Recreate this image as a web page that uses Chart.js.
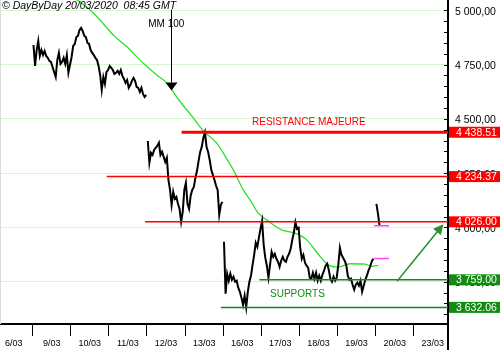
<!DOCTYPE html>
<html><head><meta charset="utf-8">
<script src="https://cdn.jsdelivr.net/npm/chart.js@4.4.1/dist/chart.umd.min.js"></script>
<style>html,body{margin:0;padding:0;background:#fff}</style>
</head><body>
<canvas id="c" width="500" height="350"></canvas>
<script>
// ---- categories (trading days) ----
const dayLabels  = ['6/03','9/03','10/03','11/03','12/03','13/03','16/03','17/03','18/03','19/03','20/03','23/03'];
const dayCenters = [-0.5,0.5,1.5,2.5,3.5,4.5,5.5,6.5,7.5,8.5,9.5,10.5];
const SAMPLES_PER_DAY = 24;

// ---- intraday prices (one array per session) ----
const p0903 = [4840,4744,4817,4859,4790,4817,4794,4813,4790,4781,4767,4762,4739,4716,4693,4771,4804,4753,4762,4781,4753,4794,4712];
const p1003 = [4785,4836,4845,4877,4882,4909,4919,4905,4882,4877,4850,4845,4817,4804,4794,4781,4771,4744,4702,4633,4693,4661,4716,4725];
const p1103 = [4744,4735,4725,4707,4712,4721,4707,4725,4698,4684,4666,4679,4643,4656,4675,4689,4675,4647,4643,4624,4643,4615,4601,4610];
const p1203 = [4398,4298,4344,4334,4357,4367,4376,4390,4334,4348,4325,4302,4321,4219,4173,4104,4164,4132,4141,4109,4086,4026,4072,4173];
const p1303 = [4206,4109,4086,4146,4173,4187,4229,4261,4307,4348,4371,4413,4438,4371,4348,4311,4265,4242,4219,4192,4173,4058,4104,4118];
const p1603 = [3934,3695,3787,3755,3787,3759,3773,3750,3755,3723,3704,3677,3644,3686,3632,3704,3750,3778,3828,3874,3930,3911,3953,3994];
const p1703 = [4030,3920,3861,3824,3769,3828,3888,3865,3879,3856,3842,3819,3847,3865,3847,3842,3865,3879,3902,3943,3976,4024,3994,3999];
const p1803 = [3907,3856,3874,3838,3824,3815,3769,3764,3792,3764,3792,3755,3778,3755,3782,3801,3824,3833,3805,3764,3750,3773,3755,3769];
const p1903 = [3828,3907,3874,3861,3847,3828,3778,3759,3764,3736,3713,3736,3746,3732,3755,3704,3732,3759,3778,3801,3819,3842,3856];
const p2003 = [4109,4063,4008];
const sessionBreakAfter = [false,false,true,false,true,false,false,false,true,false];

// ---- moving average 100 (time in trading days from 9/03) ----
const maTime  = [0.979,1.459,1.766,2.115,2.467,2.903,3.255,3.517,3.836,4.199,4.478,4.829,5.134,5.265,5.528,5.703,5.921,6.142,6.535,6.885,7.192,7.541,7.759,8.021,8.328,8.722,8.898,9.071];
const maValue = [5070,5009,4955,4886,4833,4756,4702,4666,4587,4508,4445,4388,4304,4265,4173,4127,4066,4035,3989,3974,3943,3867,3828,3818,3833,3831,3821,3826];

// ---- horizontal levels ----
const levelValues = [4438.51, 4234.37, 4026.00, 3759.00, 3632.06];
const levelStart  = [3.91, 1.94, 2.95, 5.95, 4.94];
const levelKind   = ['resistance','resistance','resistance','support','support'];
const markValues  = [4008, 3857];
const markFrom = 8.96, markTo = 9.35;

// ---- axis ticks ----
const yTickValues = [3750, 4000, 4250, 4500, 4750, 5000];
const X_MIN = -0.858, X_MAX = 10.9, Y_MIN = 3555.6, Y_MAX = 5047.4;

const FONT = '"Liberation Sans", Arial, sans-serif';
Chart.defaults.font.family = FONT;
const RED = '#ff0000', DKGREEN = '#118c11', MAGREEN = '#2ee02e', MAGENTA = '#ff40ff';

function groupThousands(s){ return s.replace(/\B(?=(\d{3})+(?!\d))/g,' '); }
function fmtAxis(v){ const [a,b] = v.toFixed(2).split('.'); return groupThousands(a)+','+b; }
function fmtBox(v){ const [a,b] = v.toFixed(2).split('.'); return groupThousands(a)+'.'+b; }

// build price points
const priceDays = [p0903,p1003,p1103,p1203,p1303,p1603,p1703,p1803,p1903,p2003];
const pricePts = [];
priceDays.forEach((arr,d)=>{
  arr.forEach((v,i)=>pricePts.push({x: d + (i+0.5)/SAMPLES_PER_DAY, y: v}));
  if (sessionBreakAfter[d]) pricePts.push({x: d+1, y: null});
});
const maPts = maTime.map((t,i)=>({x:t, y:maValue[i]}));

const datasets = [];
levelValues.forEach((v,i)=>{
  const res = levelKind[i]==='resistance';
  datasets.push({data:[{x:levelStart[i],y:v},{x:11.5,y:v}], borderColor: res?RED:DKGREEN,
    borderWidth: i===0?3:1.5, pointRadius:0, order:0});
});
markValues.forEach(v=>datasets.push({data:[{x:markFrom,y:v},{x:markTo,y:v}], borderColor:MAGENTA, borderWidth:1.5, pointRadius:0, order:0}));
datasets.push({data:pricePts, borderColor:'#000', borderWidth:2, pointRadius:0, tension:0, spanGaps:false, order:1});
datasets.push({data:maPts, borderColor:MAGREEN, borderWidth:1.3, pointRadius:0, cubicInterpolationMode:'monotone', order:2});

function arrowHead(ctx, x1,y1,x2,y2,len,half){
  const a = Math.atan2(y2-y1,x2-x1);
  ctx.beginPath();
  ctx.moveTo(x2,y2);
  ctx.lineTo(x2-len*Math.cos(a)+half*Math.sin(a), y2-len*Math.sin(a)-half*Math.cos(a));
  ctx.lineTo(x2-len*Math.cos(a)-half*Math.sin(a), y2-len*Math.sin(a)+half*Math.cos(a));
  ctx.closePath(); ctx.fill();
}

const overlay = {
  id:'overlay',
  afterDatasetsDraw(chart){
    const {ctx, scales:{x,y}} = chart;
    ctx.save();
    ctx.textBaseline = 'middle';
    ctx.font = 'italic 10.5px '+FONT; ctx.fillStyle='#000'; ctx.textAlign='left';
    ctx.fillText('\u00A9 DayByDay 20/03/2020  08:45 GMT', 2, 6.5);
    ctx.font = '10px '+FONT;
    ctx.fillStyle = RED; ctx.fillText('RESISTANCE MAJEURE', x.getPixelForValue(5.756), y.getPixelForValue(4484));
    ctx.fillStyle = DKGREEN; ctx.fillText('SUPPORTS', x.getPixelForValue(6.228), y.getPixelForValue(3694));
    ctx.fillStyle = '#000'; ctx.textAlign='center';
    ctx.fillText('MM 100', x.getPixelForValue(3.507), y.getPixelForValue(4938));
    const ax = Math.round(x.getPixelForValue(3.633))+0.5;
    ctx.strokeStyle='#000'; ctx.lineWidth=1;
    ctx.beginPath(); ctx.moveTo(ax, y.getPixelForValue(5003)); ctx.lineTo(ax, y.getPixelForValue(4668)); ctx.stroke();
    const hb = y.getPixelForValue(4668), tip = y.getPixelForValue(4631);
    ctx.beginPath(); ctx.moveTo(ax-6,hb); ctx.lineTo(ax+6,hb); ctx.lineTo(ax,tip); ctx.closePath(); ctx.fill();
    const gx1=x.getPixelForValue(9.562), gy1=y.getPixelForValue(3752), gx2=x.getPixelForValue(10.777), gy2=y.getPixelForValue(4015);
    ctx.strokeStyle='#2a8f2a'; ctx.fillStyle='#2a8f2a'; ctx.lineWidth=1.5;
    ctx.beginPath(); ctx.moveTo(gx1,gy1); ctx.lineTo(gx2-4,gy2+5); ctx.stroke();
    arrowHead(ctx,gx1,gy1,gx2,gy2,10,5);
    ctx.restore();
  },
  afterDraw(chart){
    const {ctx, chartArea, scales:{y}} = chart;
    ctx.save();
    ctx.strokeStyle='#000'; ctx.lineWidth=2;
    ctx.beginPath(); ctx.moveTo(chartArea.right, chartArea.bottom); ctx.lineTo(chartArea.right, 350); ctx.stroke();
    ctx.strokeStyle='#dcdcdc'; ctx.lineWidth=1;
    ctx.beginPath(); ctx.moveTo(0.5,0); ctx.lineTo(0.5,chartArea.bottom); ctx.stroke();
    ctx.strokeStyle='#000'; ctx.lineWidth=1;
    for (let v=3600; v<=5000; v+=50){
      const py = Math.round(y.getPixelForValue(v))+0.5;
      ctx.beginPath(); ctx.moveTo(chartArea.right-4, py); ctx.lineTo(chartArea.right, py); ctx.stroke();
    }
    ctx.font = '10.5px '+FONT; ctx.textBaseline='middle'; ctx.textAlign='left';
    levelValues.forEach((v,i)=>{
      const py = y.getPixelForValue(v);
      ctx.fillStyle = levelKind[i]==='resistance'?RED:DKGREEN;
      ctx.fillRect(chartArea.right+1, py-5.5, 500-chartArea.right, 11);
      ctx.fillStyle = '#fff';
      ctx.fillText(fmtBox(v), chartArea.right+8, py+0.5);
    });
    ctx.restore();
  }
};

new Chart(document.getElementById('c'), {
  type:'line',
  data:{datasets},
  options:{
    responsive:false, animation:false, devicePixelRatio:1,
    layout:{padding:0},
    plugins:{legend:{display:false}, tooltip:{enabled:false}},
    scales:{
      x:{type:'linear', min:X_MIN, max:X_MAX,
        afterBuildTicks:s=>{ s.ticks = dayCenters.map(v=>({value:v})); },
        afterFit:s=>{ s.height = 26; s.paddingLeft = 0; s.paddingRight = 0; },
        ticks:{autoSkip:false, maxRotation:0, padding:2, color:'#000', font:{size:9}, callback:(v,i)=>dayLabels[i]},
        grid:{offset:true, drawOnChartArea:false, drawTicks:true, tickLength:12, color:'#000', lineWidth:1},
        border:{display:true, color:'#000', width:2}
      },
      y:{type:'linear', position:'right', min:Y_MIN, max:Y_MAX,
        afterBuildTicks:s=>{ s.ticks = yTickValues.map(v=>({value:v})); },
        afterFit:s=>{ s.width = 52; s.paddingTop = 0; s.paddingBottom = 0; },
        ticks:{padding:7, labelOffset:1.5, color:'#000', font:{size:10.5}, callback:v=>fmtAxis(v)},
        grid:{color:'#d9f5cf', lineWidth:1, drawTicks:false},
        border:{display:true, color:'#000', width:2}
      }
    }
  },
  plugins:[overlay]
});
</script>
</body></html>
